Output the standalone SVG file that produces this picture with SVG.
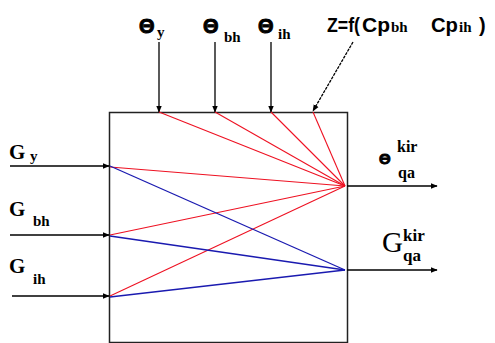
<svg xmlns="http://www.w3.org/2000/svg" width="495" height="343" viewBox="0 0 495 343">
<defs>
<style>
.ln{stroke:#000;stroke-width:1.3;fill:none}
.r{stroke:#ee1122;stroke-width:1.1;fill:none}
.b{stroke:#1a1ab0;stroke-width:1.3;fill:none}
.big{font-family:"Liberation Sans",Arial,sans-serif;font-weight:bold;fill:#000}
.th{font-family:"Liberation Sans",Arial,sans-serif;font-weight:bold;fill:#000;stroke:#000;stroke-width:0.9}
.gs{font-family:"Liberation Serif","Times New Roman",serif;font-weight:bold;fill:#000}
.sub{font-family:"Liberation Serif","Times New Roman",serif;font-weight:bold;fill:#000}
</style>
<marker id="ah" viewBox="0 0 10 10" refX="9" refY="5" markerWidth="7" markerHeight="7" markerUnits="userSpaceOnUse" orient="auto">
<path d="M0,1 L10,5 L0,9 Z" fill="#000"/>
</marker>
</defs>
<rect width="495" height="343" fill="#fff"/>
<g id="box">
<rect x="109.5" y="112.5" width="238" height="230" fill="none" stroke="#222" stroke-width="1.5"/>
</g>
<g id="connectors">
<line class="ln" x1="159" y1="42" x2="159" y2="112" marker-end="url(#ah)"/>
<line class="ln" x1="215" y1="42" x2="215" y2="112" marker-end="url(#ah)"/>
<line class="ln" x1="271" y1="42" x2="271" y2="112" marker-end="url(#ah)"/>
<line class="ln" x1="353" y1="42" x2="313" y2="111" stroke-dasharray="3,1" marker-end="url(#ah)"/>
<line class="ln" x1="10" y1="166" x2="109" y2="166" marker-end="url(#ah)"/>
<line class="ln" x1="10" y1="235" x2="109" y2="235" marker-end="url(#ah)"/>
<line class="ln" x1="12" y1="296" x2="109" y2="296" marker-end="url(#ah)"/>
<line class="ln" x1="347" y1="186" x2="437" y2="186" marker-end="url(#ah)"/>
<line class="ln" x1="347" y1="270" x2="437" y2="270" marker-end="url(#ah)"/>
<line class="r" x1="159" y1="112" x2="345" y2="186"/>
<line class="r" x1="215" y1="112" x2="345" y2="186"/>
<line class="r" x1="271" y1="112" x2="345" y2="186"/>
<line class="r" x1="313" y1="112" x2="345" y2="186"/>
<line class="r" x1="110" y1="167" x2="345" y2="186"/>
<line class="r" x1="110" y1="235" x2="345" y2="186"/>
<line class="r" x1="110" y1="296" x2="345" y2="186"/>
<line class="b" x1="110" y1="166" x2="345" y2="270"/>
<line class="b" x1="110" y1="236" x2="345" y2="270"/>
<line class="b" x1="110" y1="297" x2="345" y2="270"/>
</g>
<g id="theta-y"><text class="th" x="139" y="33" font-size="20">Θ</text><text class="sub" x="157" y="37" font-size="15">y</text></g>
<g id="theta-bh"><text class="th" x="203" y="33" font-size="20">Θ</text><text class="sub" x="224" y="42" font-size="15">bh</text></g>
<g id="theta-ih"><text class="th" x="258" y="33" font-size="20">Θ</text><text class="sub" x="278" y="39" font-size="15">ih</text></g>
<g id="z-func"><text class="big" y="32" font-size="20"><tspan x="327" textLength="33" lengthAdjust="spacingAndGlyphs">Z=f(</tspan><tspan x="362" textLength="28" lengthAdjust="spacingAndGlyphs">Cp</tspan><tspan class="sub" x="391" font-size="15">bh</tspan><tspan x="431" textLength="27" lengthAdjust="spacingAndGlyphs">Cp</tspan><tspan class="sub" x="459" font-size="15">ih</tspan><tspan x="479">)</tspan></text></g>
<g id="g-y"><text class="gs" x="9" y="159" font-size="21">G</text><text class="sub" x="30" y="161" font-size="15">y</text></g>
<g id="g-bh"><text class="gs" x="9" y="216" font-size="21">G</text><text class="sub" x="33" y="226" font-size="15">bh</text></g>
<g id="g-ih"><text class="gs" x="9" y="273" font-size="21">G</text><text class="sub" x="33" y="284" font-size="15">ih</text></g>
<g id="theta-kir"><text class="th" x="379" y="164" font-size="15">Θ</text><text class="sub" x="397" y="152" font-size="16">kir</text><text class="sub" x="398" y="178" font-size="16">qa</text></g>
<g id="g-kir"><text x="382" y="252" font-size="29" font-family="Liberation Serif,'Times New Roman',serif" fill="#000">G</text><text class="sub" x="403" y="241" font-size="17">kir</text><text class="sub" x="403" y="261" font-size="17">qa</text></g>
</svg>
